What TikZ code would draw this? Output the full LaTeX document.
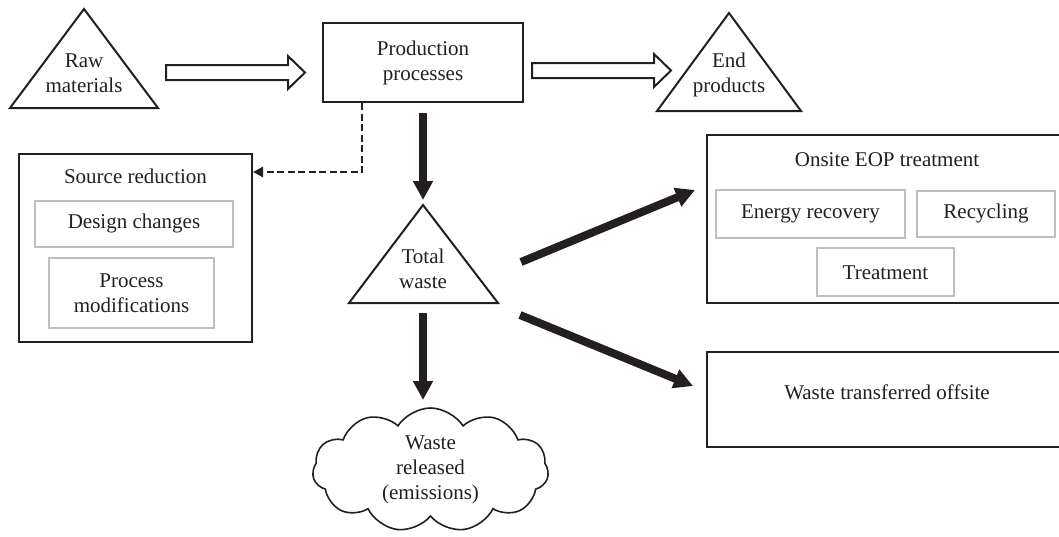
\documentclass[tikz,border=0pt]{standalone}
\usepackage{fontspec}
\setmainfont{Liberation Serif}
\usetikzlibrary{arrows.meta,calc,shapes.symbols}
\definecolor{ink}{HTML}{231F20}
\definecolor{graybox}{HTML}{BEBEBE}
\tikzset{
  txt/.style={inner sep=0pt, align=center, font=\fontsize{21}{25}\selectfont, text=ink},
  box/.style={draw=ink, line width=2pt, inner sep=0pt},
  gbox/.style={draw=graybox, line width=2.4pt, inner sep=0pt, align=center, font=\fontsize{21}{25}\selectfont, text=ink, text height=14.5pt, text depth=4.6pt},
  tri/.style={draw=ink, line width=2pt, line join=miter},
  hollow/.style={draw=ink, line width=2pt, fill=white, line join=miter},
  bigarrow/.style={draw=ink, line width=8pt, -{Triangle[length=19pt,width=19pt]}},
  dsh/.style={draw=ink, line width=2.4pt, dash pattern=on 7pt off 3.5pt, -{Triangle[length=10pt,width=10pt]}},
}
\newcommand\hollowarr[2]{%
  \path[hollow] ($(#1)+(0,-7.5)$) -- ($(#2)+(-17,-7.5)$) -- ($(#2)+(-17,-16.5)$) -- (#2)
    -- ($(#2)+(-17,16.5)$) -- ($(#2)+(-17,7.5)$) -- ($(#1)+(0,7.5)$) -- cycle;}
\begin{document}
\begin{tikzpicture}[x=1pt,y=-1pt]
\useasboundingbox (0,0) rectangle (1059,536);
\begin{scope}
\clip (0,0) rectangle (1059,536);
% triangles
\coordinate (raw-a) at (84,9);
\draw[tri] (raw-a) -- (158,108) -- (10,108) -- cycle;
\node[txt] (raw) at (84,73) {Raw\\materials};
\coordinate (end-a) at (729,13);
\draw[tri] (end-a) -- (801,111) -- (657,111) -- cycle;
\node[txt] (endp) at (729,75) {End\\products};
\coordinate (tw-a) at (423,205);
\coordinate (tw-s) at (423,303);
\draw[tri] (tw-a) -- (498,303) -- (349,303) -- cycle;
\node[txt] (tw) at (423,269) {Total\\waste};
% production
\node[box, txt, minimum width=200pt, minimum height=79pt] (prod) at (423,62.5) {Production\\processes};
% source reduction
\node[box, minimum width=233pt, minimum height=188pt] (src) at (135.5,248) {};
\node[txt] (src-t) at (135.5,176) {Source reduction};
\node[gbox, minimum width=198pt, minimum height=46pt] (design) at (134,224) {Design changes};
\node[gbox, minimum width=165pt, minimum height=70pt, text height=, text depth=] (procmod) at (131.5,293) {Process\\modifications};
% onsite
\node[box, minimum width=360pt, minimum height=168pt] (onsite) at (887,219) {};
\node[txt] (onsite-t) at (887,159.5) {Onsite EOP treatment};
\node[gbox, minimum width=189pt, minimum height=48pt] (energy) at (810.5,214) {Energy recovery};
\node[gbox, minimum width=138pt, minimum height=46pt] (recyc) at (986,214) {Recycling};
\node[gbox, minimum width=137pt, minimum height=48pt, text depth=0pt, text height=14pt] (treat) at (885.5,272) {Treatment};
% offsite
\node[box, minimum width=360pt, minimum height=95pt] (offsite) at (887,399.5) {};
\node[txt] (offsite-t) at (887,392.5) {Waste transferred offsite};
% cloud
\node[cloud, draw=ink, line width=1.6pt, cloud puffs=11, cloud puff arc=115, cloud ignores aspect,
      minimum width=236pt, minimum height=124pt, txt] (cloud) at (430.5,470) {Waste\\released\\(emissions)};
\end{scope}
% hollow arrows
\coordinate (h1s) at (166,72.5);
\coordinate (h1e) at (305,72.5);
\hollowarr{h1s}{h1e}
\coordinate (h2s) at (532,70.5);
\coordinate (h2e) at (671,70.5);
\hollowarr{h2s}{h2e}
% dashed connector
\draw[dsh] ($(prod.south west)+(40,0)$) |- (src.east |- 0,172);
% black arrows
\draw[bigarrow, shorten <=10pt, shorten >=5pt] (prod.south) -- (tw-a);
\draw[bigarrow, shorten <=10pt] (tw-s) -- (tw-s |- 0,400);
\coordinate (d1s) at (521,262);
\coordinate (d1e) at (695,190);
\coordinate (d2s) at (520,315);
\coordinate (d2e) at (693,386);
\draw[bigarrow] (d1s) -- (d1e);
\draw[bigarrow] (d2s) -- (d2e);
\end{tikzpicture}
\end{document}
